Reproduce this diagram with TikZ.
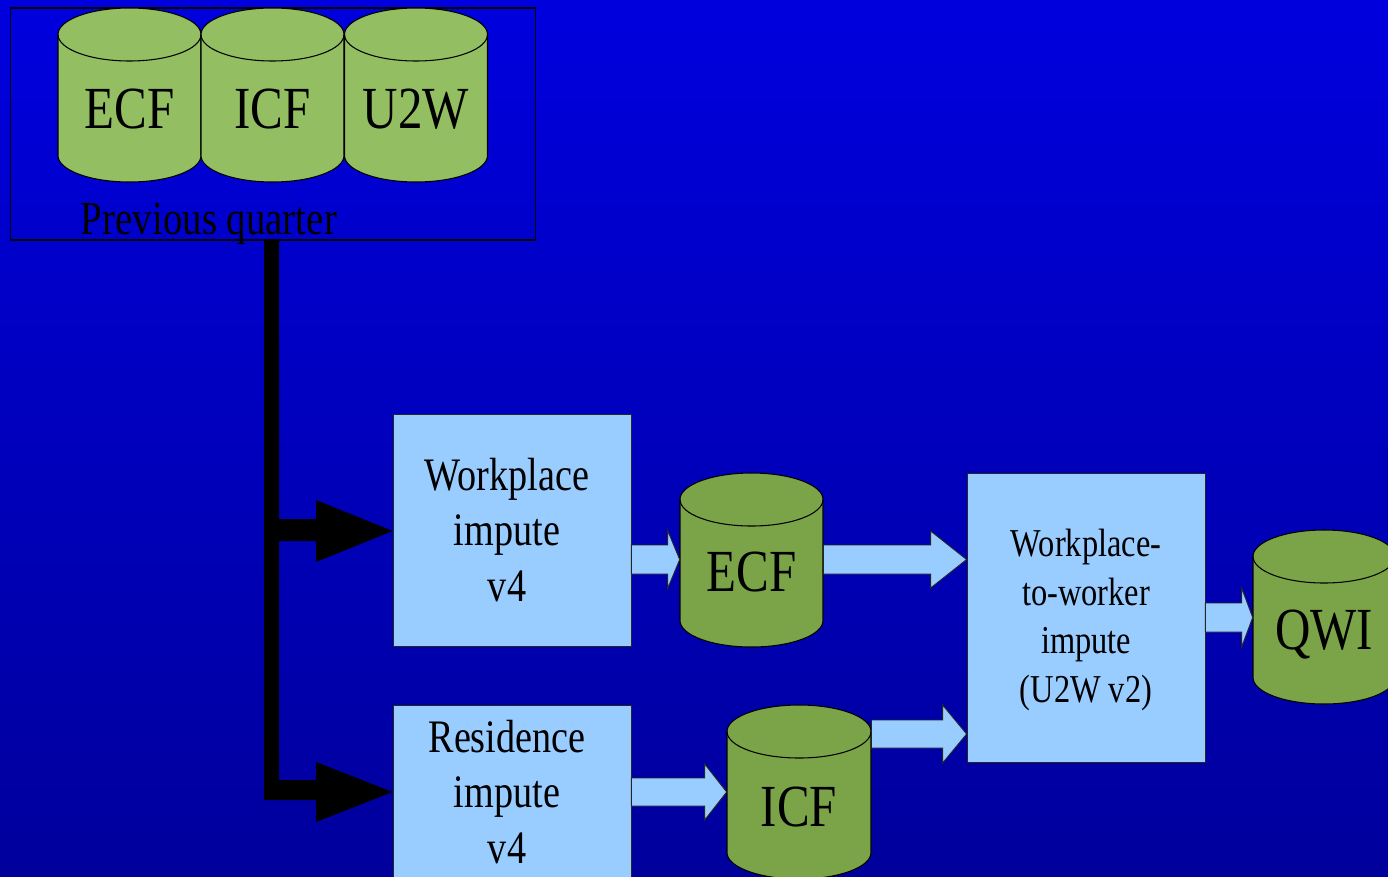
\documentclass[tikz,border=0pt]{standalone}
\usepackage{fontspec}
\setmainfont{Liberation Serif}[FakeStretch=0.82]
\usetikzlibrary{calc}
\definecolor{bgtop}{RGB}{0,0,222}
\definecolor{bgbot}{RGB}{0,0,156}
\definecolor{boxblue}{RGB}{153,204,255}
\definecolor{cylA}{RGB}{148,190,98}
\definecolor{cylB}{RGB}{123,164,72}
\tikzset{
  procbox/.style={draw=black!85,line width=0.5pt,fill=boxblue,inner sep=0pt},
  cylline/.style={draw=black,line width=0.6pt},
  cyltext/.style={inner sep=0pt,font=\fontsize{34}{40}\selectfont},
  boxtext/.style={inner sep=0pt,align=center,font=\fontsize{26.5}{31.7}\selectfont},
  smalltext/.style={inner sep=0pt,align=center,font=\fontsize{22.5}{27.8}\selectfont},
  barrow/.style={fill=boxblue,draw=black!85,line width=0.5pt},
}
% #1 fill, #2 name, #3 left x, #4 top ellipse centre y, #5 label, #6 label baseline y, #7 x radius
\newcommand\cyl[7]{%
  \filldraw[#1,cylline] (#3,-#4) -- ++(0,-121)
     arc[start angle=180,end angle=360,x radius=#7,y radius=26.5] -- ++(0,121)
     arc[start angle=0,end angle=180,x radius=#7,y radius=26.5] -- cycle;
  \draw[cylline] (#3,-#4) arc[start angle=180,end angle=360,x radius=#7,y radius=26.5];
  \node[inner sep=0pt,minimum width={2*#7*0.02cm},minimum height=3.48cm] (#2) at ({#3+#7},{-#4-60.5}) {};
  \node[cyltext,anchor=base] (#2T) at ({#3+#7},-#6) {#5};
}
% block arrow: #1 from, #2 to, #3 centre y (px), #4 shaft half, #5 head half, #6 head length
\newcommand\barrowdraw[6]{%
  \draw[barrow] let \p1=(#1), \p2=(#2), \p3=(0,-#3) in
    (\x1,{\y3+#4*0.02cm}) -- ({\x2-#6*0.02cm},{\y3+#4*0.02cm})
    -- ({\x2-#6*0.02cm},{\y3+#5*0.02cm}) -- (\x2,\y3)
    -- ({\x2-#6*0.02cm},{\y3-#5*0.02cm}) -- ({\x2-#6*0.02cm},{\y3-#4*0.02cm})
    -- (\x1,{\y3-#4*0.02cm}) -- cycle;
}
\begin{document}
\begin{tikzpicture}[x=0.02cm,y=0.02cm]
\useasboundingbox (0,0) rectangle (1388,-876);
\clip (0,0) rectangle (1388,-876);
\shade[top color=bgtop,bottom color=bgbot] (0,0) rectangle (1388,-876);

% previous quarter group
\node[draw=black,line width=0.6pt,inner sep=0pt,minimum width=10.52cm,minimum height=4.64cm] (pq) at (273,-124) {};
\cyl{cylA}{ecfP}{58}{34.5}{ECF}{128}{71.5}
\cyl{cylA}{icfP}{201}{34.5}{ICF}{128}{71.5}
\cyl{cylA}{u2wP}{344.5}{34.5}{U2W}{128}{71.5}
\node[inner sep=0pt,anchor=base,font=\fontsize{27}{32}\selectfont] (pqT) at (209,-234) {Previous quarter};

% process boxes
\node[procbox,minimum width=4.76cm,minimum height=4.64cm] (wp) at (512,-530) {};
\node[boxtext] (wpT) at (507,-530) {Workplace\\impute\\v4};
\node[procbox,minimum width=4.76cm,minimum height=4.64cm] (rs) at (512,-821) {};
\node[boxtext] (rsT) at (507,-792) {Residence\\impute\\v4};
\node[procbox,minimum width=4.76cm,minimum height=5.78cm] (uw) at (1086,-617.5) {};
\node[smalltext] (uwT) at (1086,-620) {Workplace-\\to-worker\\impute\\(U2W v2)};

% data cylinders
\cyl{cylB}{ecf}{680}{499.5}{ECF}{591}{71.5}
\cyl{cylB}{icf}{727}{731.5}{ICF}{826}{72}
\cyl{cylB}{qwi}{1253}{556.5}{QWI}{649}{71}

% black connector from previous quarter
\fill[black] (pq.south -| 264,0) -- (264,-800) -- (316,-800) -- (316,-822)
  -- (rs.west |- 0,-792) -- (316,-762) -- (316,-780) -- (279,-780)
  -- (279,-541) -- (316,-541) -- (316,-562) -- (wp.west |- 0,-531)
  -- (316,-500) -- (316,-519) -- (279,-519) -- (pq.south -| 279,0) -- cycle;

% block arrows
\barrowdraw{wp.east}{ecf.west}{559.5}{14.5}{29}{12}
\barrowdraw{ecf.east}{uw.west}{559.5}{14.5}{28.5}{36}
\barrowdraw{rs.east}{icf.west}{792}{14}{28}{22}
\barrowdraw{icf.east}{uw.west}{734}{14}{29}{24}
\barrowdraw{uw.east}{qwi.west}{617.5}{14.5}{29.5}{11}
\end{tikzpicture}
\end{document}
